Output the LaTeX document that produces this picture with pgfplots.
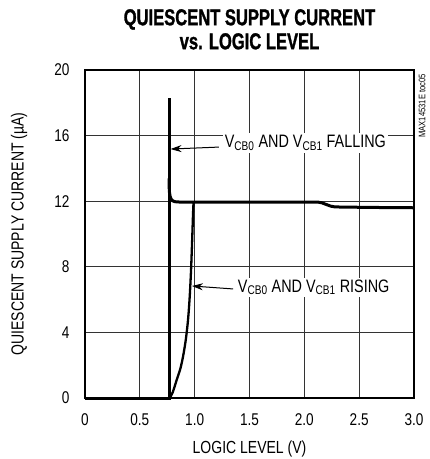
\documentclass[border=0pt]{standalone}
\usepackage{fontspec}
\setmainfont{Liberation Sans}[FakeStretch=0.8]
\newfontfamily\titlefont{Liberation Sans Bold}[FakeStretch=0.72, FakeBold=1.2]
\usepackage{pgfplots}
\pgfplotsset{compat=1.18}
\usetikzlibrary{arrows.meta}
\begin{document}
\begin{tikzpicture}
\begin{axis}[
    at={(0,0)}, anchor=south west,
    scale only axis,
    width=329pt, height=328pt,
    xmin=0, xmax=3, ymin=0, ymax=20,
    xtick={0,0.5,...,3.0},
    xticklabels={0,0.5,1.0,1.5,2.0,2.5,3.0},
    ytick={0,4,...,20},
    grid=major,
    major grid style={black!80, line width=0.9pt},
    major tick length=0pt,
    axis line style={line width=2.8pt},
    tick label style={font=\fontsize{17}{20}\selectfont},
    /pgf/number format/assume math mode=true,
    xticklabel style={yshift=-12pt},
    yticklabel style={xshift=-12pt},
    xlabel={LOGIC LEVEL (V)},
    ylabel={QUIESCENT SUPPLY CURRENT (µA)},
    label style={font=\fontsize{17.5}{20}\selectfont},
    xlabel style={yshift=-8pt},
    ylabel style={at={(axis description cs:-0.2,0.5)}, anchor=center},
    title={QUIESCENT SUPPLY CURRENT\\vs. LOGIC LEVEL},
    title style={font=\titlefont\fontsize{23}{24}\selectfont, align=center, yshift=11pt},
    clip=false
]
% falling: zero section and vertical spike
\addplot[black, line width=3pt] coordinates {
  (0,0) (0.766,0) (0.766,18.3)
};
% falling: knee and flat part
\addplot[black, line width=3pt] coordinates {
  (0.766,13.4) (0.767,12.9) (0.770,12.55) (0.776,12.3) (0.786,12.12) (0.80,12.02) (0.82,11.97) (0.86,11.95) (2.12,11.95) (2.16,11.9) (2.20,11.8) (2.24,11.7) (2.28,11.65) (2.6,11.62) (3.0,11.6)
};
% rising
\addplot[black, line width=2.3pt, smooth, tension=0.5] coordinates {
  (0.772,0) (0.80,0.35) (0.836,1.1) (0.87,1.8) (0.896,2.6) (0.92,3.6) (0.94,4.8) (0.955,6.2) (0.967,7.8) (0.977,9.6) (0.985,11.2) (0.99,11.95)
};
\draw[-{Stealth[length=11pt,width=7pt]}, line width=1pt] (axis cs:1.22,15.3) -- (axis cs:0.78,15.18);
\node[anchor=west, fill=white, inner sep=2pt, font=\fontsize{18}{20}\selectfont] at (axis cs:1.255,15.55) {V\textsubscript{CB0} AND V\textsubscript{CB1} FALLING};
\draw[-{Stealth[length=11pt,width=7pt]}, line width=1pt] (axis cs:1.35,6.65) -- (axis cs:0.975,6.83);
\node[anchor=west, fill=white, inner sep=2pt, font=\fontsize{18}{20}\selectfont] at (axis cs:1.375,6.75) {V\textsubscript{CB0} AND V\textsubscript{CB1} RISING};
\node[rotate=90, anchor=east, font=\fontsize{9.5}{10}\selectfont, inner sep=0pt, fill=white] at ([xshift=8pt,yshift=-4pt]rel axis cs:1,1) {MAX14531E toc05};
\end{axis}
\pgfresetboundingbox
\path (-85pt,-61pt) rectangle (345pt,398pt);
\end{tikzpicture}
\end{document}
